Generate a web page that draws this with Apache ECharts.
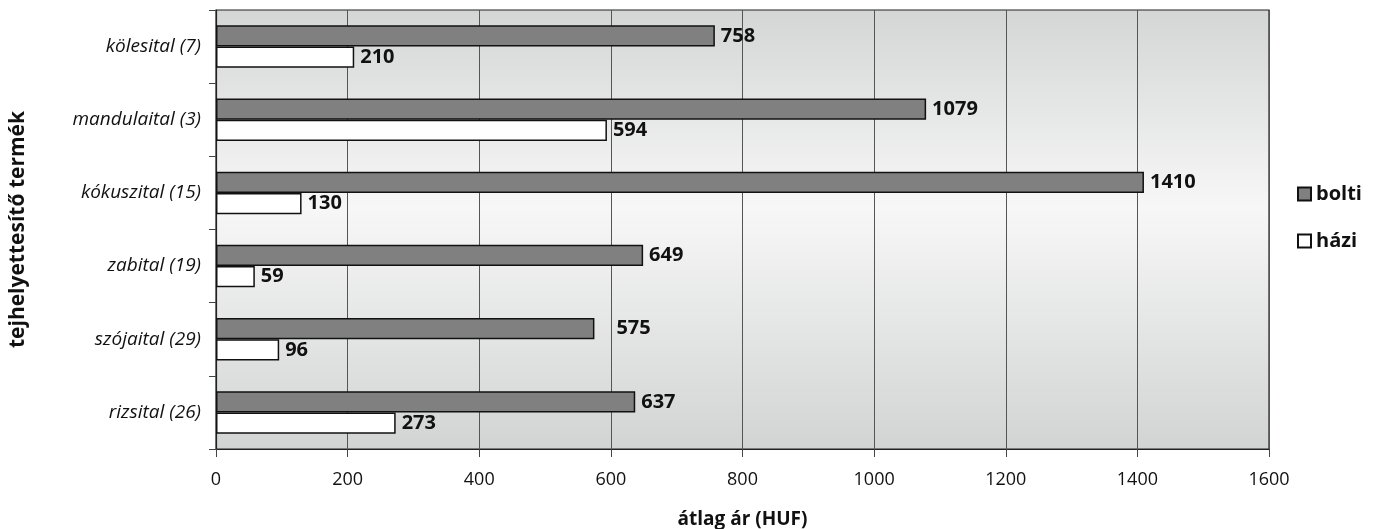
<!DOCTYPE html>
<html>
<head>
<meta charset="utf-8">
<script src="https://cdn.jsdelivr.net/npm/echarts@6/dist/echarts.min.js"></script>
<style>
  html, body { margin: 0; padding: 0; background: #fff; }
  #chart { width: 1373px; height: 529px; }
</style>
</head>
<body>
<div id="chart"></div>
<script>
// Product categories, top to bottom (number of samples in brackets)
const categories = [
  'kölesital (7)',
  'mandulaital (3)',
  'kókuszital (15)',
  'zabital (19)',
  'szójaital (29)',
  'rizsital (26)'
];
// Average price of store-bought drinks (HUF)
const boltiValues = [758, 1079, 1410, 649, 575, 637];
// Average price of home-made drinks (HUF)
const haziValues = [210, 594, 130, 59, 96, 273];
// Value axis ticks
const xTicks = [0, 200, 400, 600, 800, 1000, 1200, 1400, 1600];

const FONT = '"Open Sans", "Noto Sans", sans-serif';

const chart = echarts.init(document.getElementById('chart'), null, { renderer: 'canvas' });

const valueLabel = {
  show: true,
  position: 'right',
  distance: 6,
  color: '#111',
  fontFamily: FONT,
  fontSize: 20,
  fontWeight: 'bold'
};

// the szójaital store label sits a little further from its bar
const boltiData = boltiValues.map((v, i) =>
  categories[i].startsWith('szója') ? { value: v, label: { distance: 22 } } : v
);

chart.setOption({
  animation: false,
  textStyle: { fontFamily: FONT },
  grid: {
    left: 216,
    right: 104,
    top: 10,
    bottom: 80,
    outerBoundsMode: 'none',
    containLabel: false,
    show: true,
    borderColor: '#222',
    borderWidth: 1.2,
    backgroundColor: new echarts.graphic.LinearGradient(0, 0, 0, 1, [
      { offset: 0, color: '#d4d5d5' },
      { offset: 0.45, color: '#f7f7f7' },
      { offset: 1, color: '#d2d3d3' }
    ])
  },
  legend: {
    orient: 'vertical',
    left: 1292,
    top: 179,
    itemWidth: 13,
    itemHeight: 13,
    itemGap: 27,
    icon: 'rect',
    data: ['bolti', 'házi'],
    textStyle: { fontFamily: FONT, fontSize: 20, fontWeight: 'bold', color: '#111' }
  },
  xAxis: {
    type: 'value',
    min: xTicks[0],
    max: xTicks[xTicks.length - 1],
    interval: 200,
    name: 'átlag ár (HUF)',
    nameLocation: 'middle',
    nameGap: 61,
    nameTextStyle: { fontFamily: FONT, fontSize: 19, fontWeight: 'bold', color: '#111' },
    axisLine: { show: true, lineStyle: { color: '#222', width: 1.2 } },
    axisTick: { show: true, length: 8, lineStyle: { color: '#444' } },
    axisLabel: {
      fontFamily: FONT, fontSize: 18, color: '#111', margin: 22,
      formatter: (v) => String(v)
    },
    splitLine: { show: true, lineStyle: { color: '#555', width: 1 } }
  },
  yAxis: {
    type: 'category',
    data: categories,
    inverse: true,
    name: 'tejhelyettesítő termék',
    nameLocation: 'middle',
    nameRotate: 90,
    nameGap: 187,
    nameTextStyle: { fontFamily: FONT, fontSize: 21, fontWeight: 'bold', color: '#111' },
    axisLine: { show: true, lineStyle: { color: '#222', width: 1.2 } },
    axisTick: { show: true, length: 7, lineStyle: { color: '#444' } },
    axisLabel: { fontFamily: FONT, fontSize: 19, fontStyle: 'italic', color: '#111', margin: 15 }
  },
  series: [
    {
      name: 'bolti',
      type: 'bar',
      data: boltiData,
      barGap: '0%',
      barCategoryGap: '42%',
      itemStyle: { color: '#808080', borderColor: '#111', borderWidth: 1.5 },
      label: valueLabel
    },
    {
      name: 'házi',
      type: 'bar',
      data: haziValues,
      itemStyle: { color: '#ffffff', borderColor: '#111', borderWidth: 1.5 },
      label: valueLabel
    }
  ]
});
</script>
</body>
</html>
